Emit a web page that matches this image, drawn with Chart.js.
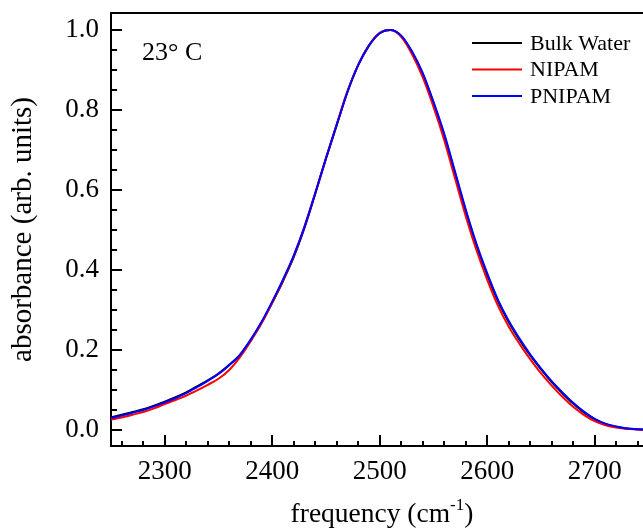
<!DOCTYPE html>
<html>
<head>
<meta charset="utf-8">
<title>absorbance 23 C</title>
<script src="https://cdn.jsdelivr.net/npm/chart.js@4.4.1/dist/chart.umd.min.js"></script>
<style>
  body { margin: 0; background: #fff; }
  #wrap { width: 643px; height: 528px; position: relative; }
</style>
</head>
<body>
<div id="wrap"><canvas id="absChart"></canvas></div>
<script>
// frequency axis (cm-1), one point every 10
const frequency = [2250, 2260, 2270, 2280, 2290, 2300, 2310, 2320, 2330, 2340,
  2350, 2360, 2370, 2380, 2390, 2400, 2410, 2420, 2430, 2440,
  2450, 2460, 2470, 2480, 2490, 2500, 2510, 2520, 2530, 2540,
  2550, 2560, 2570, 2580, 2590, 2600, 2610, 2620, 2630, 2640,
  2650, 2660, 2670, 2680, 2690, 2700, 2710, 2720, 2730, 2740, 2745]

const bulk_water = [0.032, 0.038, 0.045, 0.052, 0.061, 0.071, 0.082, 0.094, 0.109, 0.124,
  0.141, 0.163, 0.188, 0.225, 0.268, 0.318, 0.372, 0.432, 0.505, 0.590,
  0.678, 0.762, 0.845, 0.912, 0.961, 0.992, 1.000, 0.985, 0.945, 0.890,
  0.818, 0.737, 0.643, 0.548, 0.462, 0.388, 0.322, 0.270, 0.226, 0.187,
  0.152, 0.120, 0.092, 0.066, 0.044, 0.027, 0.015, 0.008, 0.004, 0.002, 0.001]

const nipam = [0.026, 0.031, 0.038, 0.045, 0.054, 0.065, 0.075, 0.086, 0.099, 0.113,
  0.128, 0.150, 0.182, 0.222, 0.266, 0.318, 0.374, 0.435, 0.508, 0.592,
  0.680, 0.764, 0.847, 0.913, 0.962, 0.993, 1.000, 0.983, 0.940, 0.882,
  0.808, 0.725, 0.630, 0.535, 0.450, 0.376, 0.311, 0.259, 0.216, 0.177,
  0.142, 0.111, 0.083, 0.058, 0.038, 0.022, 0.012, 0.006, 0.003, 0.001, 0.000]

const pnipam = [0.030, 0.036, 0.043, 0.050, 0.059, 0.069, 0.080, 0.092, 0.107, 0.123,
  0.140, 0.162, 0.188, 0.226, 0.270, 0.321, 0.376, 0.436, 0.508, 0.592,
  0.679, 0.763, 0.845, 0.912, 0.961, 0.992, 1.000, 0.986, 0.947, 0.893,
  0.821, 0.741, 0.647, 0.552, 0.466, 0.392, 0.326, 0.273, 0.229, 0.189,
  0.154, 0.122, 0.094, 0.068, 0.046, 0.028, 0.016, 0.009, 0.004, 0.002, 0.001]

const series_names = ['Bulk Water', 'NIPAM', 'PNIPAM']
const series_colors = ['#000000', '#ff0000', '#0000ff']

const x_major_ticks = [2300, 2400, 2500, 2600, 2700]
const y_major_ticks = [0.0, 0.2, 0.4, 0.6, 0.8, 1.0]

const serif = '"Liberation Serif", "Times New Roman", serif'

function to_points(values){
  return frequency.map((f, i) => ({x: f, y: values[i]}))
}

// inward ticks (major + minor), top frame line, legend, temperature label, x title
const frame_plugin = {
  id: 'frame_plugin',
  afterDraw(chart){
    const c = chart.ctx
    const area = chart.chartArea
    const xs = chart.scales.x
    const ys = chart.scales.y
    c.save()
    c.strokeStyle = '#000'
    c.lineWidth = 2

    // top frame
    c.beginPath()
    c.moveTo(area.left - 1, area.top)
    c.lineTo(area.right, area.top)
    c.stroke()

    // y ticks
    for (let v = 0; v <= 1.0001; v += 0.05){
      const major = Math.abs(v * 5 - Math.round(v * 5)) < 1e-6
      const py = Math.round(ys.getPixelForValue(v))
      c.beginPath()
      c.moveTo(area.left, py)
      c.lineTo(area.left + (major ? 11 : 6), py)
      c.stroke()
    }
    // x ticks
    for (let f = 2260; f <= xs.max; f += 20){
      const major = f % 100 === 0
      const px = Math.round(xs.getPixelForValue(f))
      c.beginPath()
      c.moveTo(px, area.bottom)
      c.lineTo(px, area.bottom - (major ? 11 : 5))
      c.stroke()
    }

    // legend
    c.font = '22px ' + serif
    c.textBaseline = 'middle'
    c.textAlign = 'left'
    series_names.forEach((name, i) => {
      const ly = 43 + i * 26.5
      c.strokeStyle = series_colors[i]
      c.lineWidth = 2
      c.beginPath()
      c.moveTo(472, ly)
      c.lineTo(522, ly)
      c.stroke()
      c.fillStyle = '#000'
      c.fillText(name, 530, ly + 1)
    })

    // temperature label
    c.font = '26px ' + serif
    c.fillText('23\u00B0 C', 142, 53)

    // x axis title with superscript
    const main = 'frequency (cm'
    const sup = '-1'
    const close = ')'
    c.font = '27.5px ' + serif
    const w1 = c.measureText(main).width
    const w3 = c.measureText(close).width
    c.font = '17px ' + serif
    const w2 = c.measureText(sup).width
    const total = w1 + w2 + w3
    let tx = (area.left + area.right) / 2 - total / 2 + 5
    const ty = 514
    c.textBaseline = 'alphabetic'
    c.font = '27.5px ' + serif
    c.fillText(main, tx, ty + 8)
    c.font = '17px ' + serif
    c.fillText(sup, tx + w1, ty - 4)
    c.font = '27.5px ' + serif
    c.fillText(close, tx + w1 + w2, ty + 8)
    c.restore()
  }
}

const ctx = document.getElementById('absChart').getContext('2d')

const chart = new Chart(ctx, {
  type: 'line',
  data: {
    datasets: [
      {label: series_names[0], data: to_points(bulk_water), borderColor: series_colors[0], order: 2},
      {label: series_names[1], data: to_points(nipam), borderColor: series_colors[1], order: 1},
      {label: series_names[2], data: to_points(pnipam), borderColor: series_colors[2], order: 0}
    ]
  },
  options: {
    responsive: true,
    maintainAspectRatio: false,
    animation: false,
    layout: {padding: {top: 13, right: 0, left: 0, bottom: 0}},
    elements: {
      point: {radius: 0},
      line: {borderWidth: 2, cubicInterpolationMode: 'monotone', fill: false}
    },
    plugins: {
      legend: {display: false},
      tooltip: {enabled: false}
    },
    scales: {
      x: {
        type: 'linear',
        min: 2250,
        max: 2745,
        grid: {display: false, drawTicks: false},
        border: {display: true, color: '#000', width: 2},
        ticks: {
          padding: 10,
          color: '#000',
          font: {family: serif, size: 27},
          includeBounds: false,
          callback: v => String(v)
        },
        afterBuildTicks: scale => { scale.ticks = x_major_ticks.map(v => ({value: v})) },
        afterFit: scale => {
          scale.height = 82
          scale.paddingLeft = 0
          scale.paddingRight = 0
        }
      },
      y: {
        type: 'linear',
        min: -0.04,
        max: 1.0425,
        grid: {display: false, drawTicks: false},
        border: {display: true, color: '#000', width: 2},
        ticks: {
          padding: 12,
          color: '#000',
          font: {family: serif, size: 27},
          includeBounds: false,
          callback: v => v.toFixed(1)
        },
        afterBuildTicks: scale => { scale.ticks = y_major_ticks.map(v => ({value: v})) },
        title: {
          display: true,
          text: 'absorbance (arb. units)',
          color: '#000',
          font: {family: serif, size: 29},
          padding: {top: 6, bottom: 0}
        },
        afterFit: scale => {
          scale.width = 111
          scale.paddingTop = 0
          scale.paddingBottom = 0
        }
      }
    }
  },
  plugins: [frame_plugin]
})
</script>
</body>
</html>
